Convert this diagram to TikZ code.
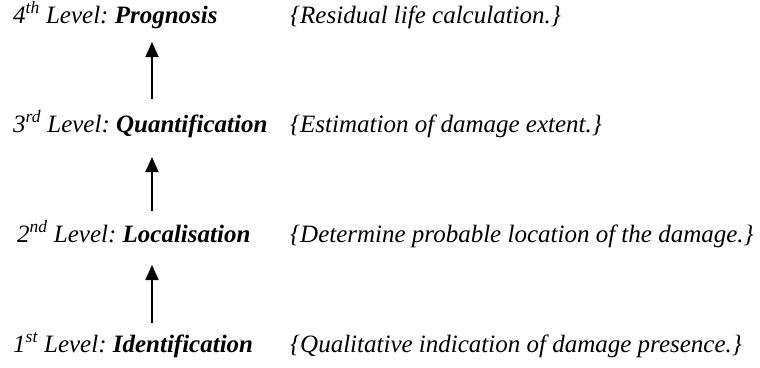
\documentclass[tikz,border=0pt]{standalone}
\usepackage{fontspec}
\setmainfont{Liberation Serif}[
	ItalicFont={Liberation Serif Italic},
	BoldItalicFont={Liberation Serif Bold Italic}]
\usetikzlibrary{arrows.meta}
\frenchspacing

\begin{document}
\begin{tikzpicture}[x=1pt,y=-1pt,
		lvl/.style={anchor=base west, inner sep=0pt, font=\itshape},
		up/.style={-{Triangle[width=13pt,length=15pt]}, line width=1.8pt}]
				\fontsize{25}{30}\selectfont
				\useasboundingbox (0,0) rectangle (760,367);
				\pgfmathsetmacro{\ax}{152}
				% the four levels, bottom to top
				\node[lvl] (lvA) at (13,352) {1\textsuperscript{st} Level: \textbf{Identification}};
				\node[lvl] (dsA) at (290,352) {\{Qualitative indication of damage presence.\}};
				\node[lvl] (lvB) at (17,242) {2\textsuperscript{nd} Level: \textbf{Localisation}};
				\node[lvl] (dsB) at (290,242) {\{Determine probable location of the damage.\}};
				\node[lvl] (lvC) at (13,132) {3\textsuperscript{rd} Level: \textbf{Quantification}};
				\node[lvl] (dsC) at (290,132) {\{Estimation of damage extent.\}};
				\node[lvl] (lvD) at (13,23) {4\textsuperscript{th} Level: \textbf{Prognosis}};
				\node[lvl] (dsD) at (290,23) {\{Residual life calculation.\}};

				% arrow ends
				\coordinate (uA) at (\ax,323);
				\coordinate (tA) at (\ax,265);
				\coordinate (uB) at (\ax,211);
				\coordinate (tB) at (\ax,157);
				\coordinate (uC) at (\ax,99);
				\coordinate (tC) at (\ax,42);
				\draw[up] (uA) -- (tA);
				\draw[up] (uB) -- (tB);
				\draw[up] (uC) -- (tC);
\end{tikzpicture}
\end{document}
